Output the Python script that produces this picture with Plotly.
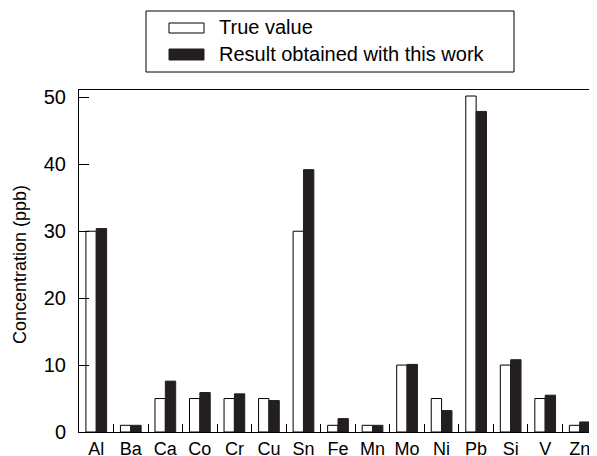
import plotly.graph_objects as go

categories = ["Al", "Ba", "Ca", "Co", "Cr", "Cu", "Sn", "Fe", "Mn", "Mo", "Ni", "Pb", "Si", "V", "Zn"]
true_values = [30, 1, 5, 5, 5, 5, 30, 1, 1, 10, 5, 50.2, 10, 5, 1]
result_values = [30.4, 1.0, 7.6, 5.9, 5.7, 4.7, 39.2, 2.0, 1.0, 10.1, 3.2, 47.9, 10.8, 5.5, 1.5]
y_ticks = [0, 10, 20, 30, 40, 50]
legend_labels = ["True value", "Result obtained with this work"]

# the page body has an 8px margin, so the figure is drawn 8px in from the window corner
OFF = 8
PAGE_W, PAGE_H = 597, 456
W, H = PAGE_W - OFF, PAGE_H - OFF
# plot area in page pixels: x 79..597, y 90..432
PL, PR, PT, PB = 79, 597, 90, 432
L, R, T, B = PL - OFF, PAGE_W - PR, PT - OFF, PAGE_H - PB
PW, PH = PR - PL, PB - PT
FONT = "Liberation Sans, Arial, sans-serif"
DARK = "#231f20"


def px(x):
    return (x - PL) / PW


def py(y):
    return (PB - y) / PH


fig = go.Figure()
fig.add_trace(go.Bar(x=categories, y=true_values, name=legend_labels[0],
                     marker=dict(color="white", line=dict(color="black", width=1)),
                     showlegend=False))
fig.add_trace(go.Bar(x=categories, y=result_values, name=legend_labels[1],
                     marker=dict(color=DARK, line=dict(color=DARK, width=1)),
                     showlegend=False))

# manual legend (box, swatches, labels)
shapes = [
    dict(type="rect", xref="paper", yref="paper", x0=px(146), x1=px(514), y0=py(11), y1=py(72),
         line=dict(color="black", width=1), fillcolor="white"),
    dict(type="rect", xref="paper", yref="paper", x0=px(169), x1=px(204), y0=py(23), y1=py(33),
         line=dict(color="black", width=1), fillcolor="white"),
    dict(type="rect", xref="paper", yref="paper", x0=px(169), x1=px(204), y0=py(49), y1=py(60),
         line=dict(color=DARK, width=1), fillcolor=DARK),
]
annotations = [
    dict(xref="paper", yref="paper", x=px(217), y=py(27), text=legend_labels[0], showarrow=False,
         xanchor="left", yanchor="middle", font=dict(family=FONT, size=20, color="black")),
    dict(xref="paper", yref="paper", x=px(217), y=py(54), text=legend_labels[1], showarrow=False,
         xanchor="left", yanchor="middle", font=dict(family=FONT, size=20, color="black")),
    dict(xref="paper", yref="paper", x=px(20), y=py(265), text="Concentration (ppb)", showarrow=False,
         textangle=-90, xanchor="center", yanchor="middle",
         font=dict(family=FONT, size=18, color="black")),
]

fig.update_layout(
    width=W, height=H,
    margin=dict(l=L, r=R, t=T, b=B, pad=0, autoexpand=False),
    paper_bgcolor="white", plot_bgcolor="white",
    barmode="group", bargap=0.4, bargroupgap=0,
    font=dict(family=FONT, size=20, color="black"),
    shapes=shapes, annotations=annotations,
    showlegend=False,
)
fig.update_xaxes(
    type="category", tickson="boundaries", ticks="inside", ticklen=8, tickwidth=1, tickcolor="black",
    showline=True, linecolor="black", linewidth=1, mirror=True, showgrid=False, zeroline=False,
    tickfont=dict(family=FONT, size=18, color="black"), tickangle=0, automargin=False,
    ticklabelstandoff=0,
)
fig.update_yaxes(
    range=[0, 51.1], tickvals=y_ticks, ticks="inside", ticklen=10, tickwidth=1, tickcolor="black",
    showline=True, linecolor="black", linewidth=1, mirror=False, showgrid=False, zeroline=False,
    tickfont=dict(family=FONT, size=20, color="black"), ticklabelstandoff=8, automargin=False,
)

fig.write_html("out.html")
